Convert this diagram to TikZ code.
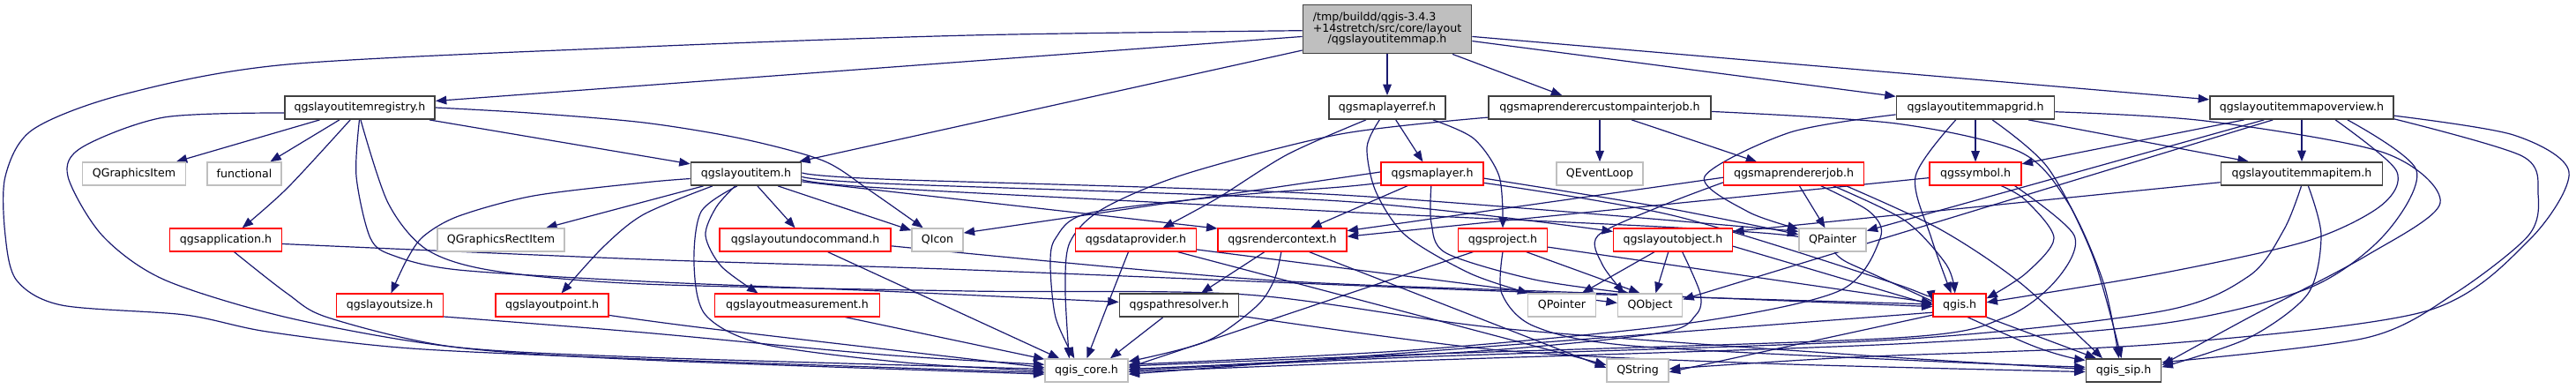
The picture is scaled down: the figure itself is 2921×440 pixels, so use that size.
\documentclass[tikz,border=0pt]{standalone}
\usepackage{fontspec}
\setmainfont{DejaVu Sans}
\usetikzlibrary{arrows.meta}
\definecolor{edgec}{HTML}{191970}
\definecolor{greyb}{HTML}{BFBFBF}
\definecolor{blkb}{HTML}{404040}
\pgfdeclarelayer{bglayer}
\pgfdeclarelayer{edgelayer}
\pgfsetlayers{bglayer,edgelayer,main}
\begin{document}
\begin{tikzpicture}[x=0.5pt,y=-0.5pt,
  nbase/.style={rectangle, inner sep=0pt, minimum height=13pt, font=\fontsize{6.3}{7.5}\selectfont, fill=white},
  nb/.style={nbase, draw=blkb, line width=0.9pt},
  nr/.style={nbase, draw=red, line width=0.6pt},
  ng/.style={nbase, draw=greyb, line width=0.7pt},
  mainnode/.style={nbase, draw=blkb, line width=0.9pt, fill=greyb, minimum height=27.5pt},
  conn/.style={draw=edgec, line width=0.6pt, -{Triangle[length=6.2pt,width=4.8pt]}}]
\begin{pgfonlayer}{bglayer}
\fill[white] (0,0) rectangle (2921,440);
\end{pgfonlayer}
\useasboundingbox (0,0) rectangle (2921,440);

% ---------- nodes ----------
\node[mainnode, minimum width=95.5pt] (M) at (1573,33) {\begin{tabular}{@{}l@{}}/tmp/buildd/qgis-3.4.3\\[-1.2pt]+14stretch/src/core/layout\\[-1.2pt]\multicolumn{1}{@{}c@{}}{/qgslayoutitemmap.h}\end{tabular}};
\node[nb, minimum width=85pt] (R) at (408,122) {qgslayoutitemregistry.h};
\node[ng, minimum width=58.5pt] (QGI) at (152,197) {QGraphicsItem};
\node[ng, minimum width=42pt] (func) at (277,197) {functional};
\node[nr, minimum width=63.5pt] (A) at (256,272) {qgsapplication.h};
\node[ng, minimum width=72pt] (QGRI) at (568,272) {QGraphicsRectItem};
\node[nr, minimum width=60.5pt] (LS) at (442,346) {qgslayoutsize.h};
\node[nr, minimum width=64pt] (LP) at (626,346) {qgslayoutpoint.h};
\node[nb, minimum width=62.5pt] (I) at (846,197) {qgslayoutitem.h};
\node[nr, minimum width=97pt] (UC) at (913,272) {qgslayoutundocommand.h};
\node[ng, minimum width=29pt] (QIcon) at (1063,272) {QIcon};
\node[nr, minimum width=68.5pt] (D) at (1288,272) {qgsdataprovider.h};
\node[nr, minimum width=93.5pt] (LM) at (904,346) {qgslayoutmeasurement.h};
\node[nb, minimum width=67.5pt] (P) at (1337,346) {qgspathresolver.h};
\node[ng, minimum width=47pt] (core) at (1232,420) {qgis\_core.h};
\node[nb, minimum width=66pt] (MR) at (1573,122) {qgsmaplayerref.h};
\node[nb, minimum width=126pt] (CPJ) at (1814,122) {qgsmaprenderercustompainterjob.h};
\node[nr, minimum width=58pt] (ML) at (1624,197) {qgsmaplayer.h};
\node[ng, minimum width=49pt] (QEL) at (1814,197) {QEventLoop};
\node[nr, minimum width=79.5pt] (MRJ) at (2034,197) {qgsmaprendererjob.h};
\node[nr, minimum width=73pt] (RC) at (1454,272) {qgsrendercontext.h};
\node[nr, minimum width=50.5pt] (PJ) at (1704,272) {qgsproject.h};
\node[nr, minimum width=67.5pt] (LO) at (1897,272) {qgslayoutobject.h};
\node[ng, minimum width=38pt] (QP) at (2078,272) {QPainter};
\node[ng, minimum width=38.5pt] (QPtr) at (1771,346) {QPointer};
\node[ng, minimum width=36.5pt] (QObj) at (1871,346) {QObject};
\node[ng, minimum width=35pt] (QStr) at (1857,420) {QString};
\node[nb, minimum width=89.5pt] (G) at (2240,122) {qgslayoutitemmapgrid.h};
\node[nb, minimum width=104pt] (OV) at (2610,122) {qgslayoutitemmapoverview.h};
\node[nr, minimum width=52pt] (S) at (2240,197) {qgssymbol.h};
\node[nb, minimum width=91.5pt] (MI) at (2610,197) {qgslayoutitemmapitem.h};
\node[nr, minimum width=30pt] (qgis) at (2222,346) {qgis.h};
\node[nb, minimum width=42.5pt] (sip) at (2408,420) {qgis\_sip.h};

% ---------- edges ----------
\begin{pgfonlayer}{edgelayer}
% main
\draw[conn] (M.185) -- (R.5);
\draw[conn] plot[smooth] coordinates {(M.181) (1100,40) (730,53) (326,73) (140,107) (37,147) (6,200) (6,267) (19,318) (70,346) (210,357) (303,376) (466,395) (730,407) (core.183)};
\draw[conn] (M.194) -- (I.13);
\draw[conn] (M.south) -- (MR.north);
\draw[conn] (M.-21) -- (CPJ.162);
\draw[conn] (M.-8) -- (G.172);
\draw[conn] (M.-5) -- (OV.175);
% registry
\draw[conn] (R.197) -- (QGI.16);
\draw[conn] (R.211) -- (func.25);
\draw[conn] plot[smooth] coordinates {(R.232) (326,213) (A.36)};
\draw[conn] plot[smooth] coordinates {(R.184) (186,133) (93,167) (77,200) (116,267) (186,317) (326,360) (512,393) (730,405) (core.178)};
\draw[conn] (R.-10) -- (I.170);
\draw[conn] plot[smooth] coordinates {(R.east) (600,128) (730,139) (840,157) (933,182) (985,215) (QIcon.140)};
\draw[conn] plot[smooth] coordinates {(R.268) (404,200) (420,270) (447,290) (520,306) (730,319) (1000,330) (P.177)};
\draw[conn] plot[smooth] coordinates {(R.274) (440,230) (484,283) (560,307) (730,322) (1100,330) (1413,334) (1700,372) (2100,402) (sip.178)};
% application
\draw[conn] plot[smooth] coordinates {(A.-55) (326,333) (372,360) (512,393) (730,408) (core.185)};
\draw[conn] plot[smooth] coordinates {(A.-4) (730,294) (1100,306) (1700,330) (qgis.178)};
% layoutitem
\draw[conn] (I.196) -- (QGRI.15);
\draw[conn] (I.-47) -- (UC.130);
\draw[conn] (I.-21) -- (QIcon.160);
\draw[conn] (I.-8) -- (RC.170);
\draw[conn] plot[smooth] coordinates {(I.185) (730,207) (605,222) (520,245) (480,268) (461,295) (LS.84)};
\draw[conn] plot[smooth] coordinates {(I.200) (730,243) (684,280) (LP.52)};
\draw[conn] plot[smooth] coordinates {(I.228) (812,235) (800,267) (818,302) (LM.163)};
\draw[conn] plot[smooth] coordinates {(I.234) (795,240) (787,300) (800,357) (865,390) (1026,411) (core.181)};
\draw[conn] plot[smooth] coordinates {(I.-3) (1000,208) (1520,228) (LO.172)};
\draw[conn] plot[smooth] coordinates {(I.1) (1000,203) (1520,221) (QP.166)};
\draw[conn] plot[smooth] coordinates {(I.-6) (1000,213) (1520,240) (2020,266) (2100,300) (2300,390) (sip.165)};
% undo command
\draw[conn] (UC.-28) -- (core.156);
\draw[conn] plot[smooth] coordinates {(UC.-4) (1430,317) (1800,332) (qgis.183)};
% size / point / measurement
\draw[conn] plot[smooth] coordinates {(LS.-12) (730,377) (1000,402) (core.172)};
\draw[conn] plot[smooth] coordinates {(LP.-10) (800,372) (1100,407) (core.176)};
\draw[conn] (LM.-14) -- (core.165);
% data provider
\draw[conn] plot[smooth] coordinates {(D.238) (1262,330) (core.88)};
\draw[conn] (D.-16) -- (QStr.170);
\draw[conn] (D.-9) -- (QObj.176);
% path resolver
\draw[conn] (P.217) -- (core.27);
\draw[conn] plot[smooth] coordinates {(P.-10) (1700,397) (2000,412) (sip.182)};
% map layer ref
\draw[conn] plot[smooth] coordinates {(MR.210) (1460,175) (1380,225) (D.24)};
\draw[conn] plot[smooth] coordinates {(MR.238) (1550,167) (1560,217) (1594,267) (1667,310) (QPtr.160)};
\draw[conn] (MR.-55) -- (ML.128);
\draw[conn] plot[smooth] coordinates {(MR.-15) (1671,157) (1700,200) (PJ.north)};
% custom painter job
\draw[conn] plot[smooth] coordinates {(CPJ.185) (1520,152) (1345,197) (1250,237) (1213,275) (1208,330) (core.145)};
\draw[conn] (CPJ.south) -- (QEL.north);
\draw[conn] (CPJ.-21) -- (MRJ.162);
\draw[conn] plot[smooth] coordinates {(CPJ.-2) (2150,140) (2290,172) (2345,230) (2385,320) (sip.111)};
% map layer
\draw[conn] (ML.178) -- (QIcon.15);
\draw[conn] plot[smooth] coordinates {(ML.190) (1520,212) (1383,223) (1233,242) (1197,270) (1191,300) (1197,360) (core.135)};
\draw[conn] (ML.206) -- (RC.23);
\draw[conn] plot[smooth] coordinates {(ML.-95) (1623,253) (1640,287) (1740,317) (QObj.150)};
\draw[conn] plot[smooth] coordinates {(ML.-5) (1885,235) (QP.171)};
\draw[conn] plot[smooth] coordinates {(ML.-10) (1900,245) (2150,322) (qgis.172)};
% map renderer job
\draw[conn] (MRJ.183) -- (RC.8);
\draw[conn] plot[smooth] coordinates {(MRJ.187) (1885,233) (1812,267) (1817,300) (QObj.155)};
\draw[conn] (MRJ.-65) -- (QP.122);
\draw[conn] plot[smooth] coordinates {(MRJ.-24) (2120,240) (2132,270) (2085,330) (1910,367) (1600,397) (core.8)};
\draw[conn] plot[smooth] coordinates {(MRJ.-17) (2160,250) (2207,300) (qgis.111)};
\draw[conn] plot[smooth] coordinates {(MRJ.-13) (2200,260) (2290,320) (sip.150)};
% render context
\draw[conn] (RC.214) -- (P.29);
\draw[conn] plot[smooth] coordinates {(RC.-95) (1445,317) (1425,347) (1368,387) (core.12)};
\draw[conn] (RC.-24) -- (QStr.175);
% project
\draw[conn] (PJ.202) -- (core.4);
\draw[conn] (PJ.-27) -- (QObj.130);
\draw[conn] (PJ.-9) -- (qgis.175);
\draw[conn] plot[smooth] coordinates {(PJ.-90) (1703,333) (1740,370) (1850,392) (2200,410) (sip.175)};
% layout object
\draw[conn] (LO.213) -- (QPtr.31);
\draw[conn] (LO.-111) -- (QObj.65);
\draw[conn] plot[smooth] coordinates {(LO.-52) (1928,333) (1923,357) (1885,377) (1691,397) (1400,413) (core.2)};
\draw[conn] (LO.-6) -- (qgis.180);
% symbol
\draw[conn] (S.185) -- (RC.3);
\draw[conn] plot[smooth] coordinates {(S.-25) (2297,227) (2329,270) (2297,310) (qgis.14)};
\draw[conn] plot[smooth] coordinates {(S.-17) (2352,267) (2332,317) (2273,360) (2150,383) (1600,402) (core.6)};
% map grid
\draw[conn] (G.south) -- (S.north);
\draw[conn] (G.-13) -- (MI.167);
\draw[conn] plot[smooth] coordinates {(G.185) (2030,150) (1933,200) (1982,240) (QP.162)};
\draw[conn] plot[smooth] coordinates {(G.212) (2172,200) (2190,270) (qgis.125)};
\draw[conn] plot[smooth] coordinates {(G.-36) (2322,190) (2373,290) (sip.100)};
\draw[conn] plot[smooth] coordinates {(G.-3) (2500,137) (2703,173) (2767,230) (2683,290) (2550,360) (sip.8)};
% map item
\draw[conn] (MI.186) -- (LO.8);
\draw[conn] plot[smooth] coordinates {(MI.-92) (2590,260) (2550,313) (2450,353) (2150,385) (1600,405) (core.0)};
\draw[conn] plot[smooth] coordinates {(MI.-62) (2632,267) (2617,333) (2550,383) (sip.5)};
% map overview
\draw[conn] (OV.south) -- (MI.north);
\draw[conn] (OV.192) -- (S.12);
\draw[conn] (OV.198) -- (QP.15);
\draw[conn] (OV.203) -- (QObj.10);
\draw[conn] plot[smooth] coordinates {(OV.-20) (2717,193) (2700,233) (2617,273) (2450,310) (qgis.6)};
\draw[conn] plot[smooth] coordinates {(OV.-15) (2740,193) (2703,267) (2617,327) (2450,367) (2150,390) (1600,409) (core.-2)};
\draw[conn] plot[smooth] coordinates {(OV.-5) (2850,153) (2913,195) (2867,273) (2750,353) (2450,390) (2100,405) (QStr.3)};
\draw[conn] plot[smooth] coordinates {(OV.-7) (2860,177) (2878,220) (2867,267) (2783,333) (2683,383) (sip.12)};
% qgis.h
\draw[conn] (qgis.195) -- (core.-5);
\draw[conn] (qgis.200) -- (QStr.-3);
\draw[conn] (qgis.south east) -- (sip.156);
\end{pgfonlayer}
\end{tikzpicture}
\end{document}
